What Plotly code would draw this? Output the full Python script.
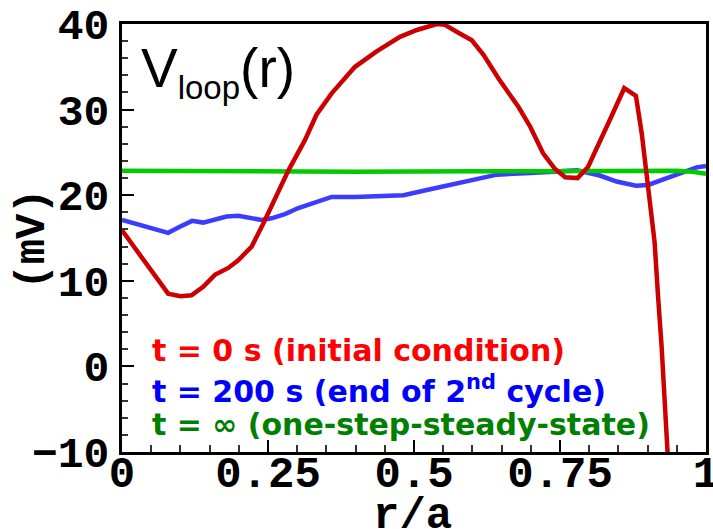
import plotly.graph_objects as go

# Loop voltage profiles V_loop(r) versus normalised radius r/a
r_init = [0.000, 0.034, 0.057, 0.079, 0.100, 0.119, 0.139, 0.159, 0.182, 0.199,
          0.222, 0.242, 0.285, 0.313, 0.333, 0.359, 0.399, 0.436, 0.476, 0.505,
          0.539, 0.553, 0.573, 0.599, 0.619, 0.645, 0.679, 0.699, 0.721, 0.741,
          0.759, 0.780, 0.798, 0.818, 0.838, 0.860, 0.880, 0.890, 0.898, 0.904,
          0.912, 0.918, 0.924, 0.934, 0.940]
v_init = [15.9, 12.8, 10.5, 8.5, 8.2, 8.3, 9.3, 10.7, 11.5, 12.4,
          14.0, 16.7, 22.9, 26.4, 29.4, 31.9, 35.0, 36.8, 38.5, 39.3,
          40.0, 39.9, 39.1, 38.1, 36.4, 33.6, 30.3, 28.0, 24.9, 23.1,
          22.1, 22.0, 23.3, 26.1, 29.2, 32.5, 31.6, 27.2, 22.9, 19.5,
          14.5, 8.1, 2.3, -9.8, -17.0]

r_200 = [0.000, 0.039, 0.059, 0.079, 0.099, 0.120, 0.139, 0.159, 0.179, 0.199,
         0.219, 0.239, 0.256, 0.279, 0.302, 0.330, 0.359, 0.399, 0.430, 0.482,
         0.522, 0.562, 0.601, 0.642, 0.699, 0.740, 0.779, 0.818, 0.847, 0.880,
         0.901, 0.933, 0.961, 0.984, 1.000]
v_200 = [17.1, 16.3, 16.0, 15.6, 16.3, 17.0, 16.8, 17.1, 17.5, 17.6,
         17.4, 17.1, 17.3, 17.8, 18.5, 19.2, 19.8, 19.8, 19.9, 20.0,
         20.6, 21.2, 21.9, 22.4, 22.6, 22.7, 22.9, 22.3, 21.6, 21.1,
         21.2, 22.0, 22.75, 23.25, 23.4]

r_inf = [0.0, 0.2, 0.4, 0.6, 0.8, 0.9, 0.95, 0.98, 1.0]
v_inf = [22.85, 22.75, 22.75, 22.8, 22.8, 22.85, 22.85, 22.7, 22.5]

x_tickvals = [0, 0.25, 0.5, 0.75, 1]
x_ticktext = ["0", "0.25", "0.5", "0.75", "1"]
y_tickvals = [-10, 0, 10, 20, 30, 40]

label_init = "t = 0 s (initial condition)"
label_200 = "t = 200 s (end of 2<sup>nd</sup> cycle)"
label_inf = "t = \u221e (one-step-steady-state)"

fig = go.Figure()
fig.add_trace(go.Scatter(x=r_200, y=v_200, mode="lines",
                         line=dict(color="rgb(60,60,255)", width=4.5)))
fig.add_trace(go.Scatter(x=r_inf, y=v_inf, mode="lines",
                         line=dict(color="rgb(0,204,0)", width=4.5)))
fig.add_trace(go.Scatter(x=r_init, y=v_init, mode="lines",
                         line=dict(color="rgb(204,0,0)", width=4.5)))


def mono(size):
    return dict(family="Liberation Mono", size=size, color="black",
                weight="bold")


axis_common = dict(
    showgrid=False, zeroline=False, showline=True, linecolor="black",
    linewidth=3, mirror=True, ticks="inside", ticklen=12, tickwidth=2,
    tickcolor="black", automargin=False, ticklabeloverflow="allow",
)

fig.update_xaxes(range=[0, 1], tickvals=x_tickvals, ticktext=x_ticktext,
                 tickfont=mono(44),
                 minor=dict(ticks="inside", ticklen=7, tickwidth=1.5,
                            tickcolor="#333", dtick=0.05, showgrid=False),
                 ticklabelstandoff=-21, **axis_common)
fig.update_yaxes(range=[-10, 40], tickvals=y_tickvals, tickfont=mono(43),
                 minor=dict(ticks="inside", ticklen=6, tickwidth=1.5,
                            tickcolor="#333", dtick=2, showgrid=False),
                 ticklabelstandoff=1, **axis_common)

ann = []
# plot title inside the frame
ann.append(dict(text='V<sub><span style="font-size:33px">loop</span></sub>(r)',
                xref="paper", yref="paper",
                x=0.029, y=0.888, xanchor="left", yanchor="middle",
                showarrow=False,
                font=dict(family="Liberation Sans", size=55, color="black")))
# series labels
leg_font = dict(family="DejaVu Sans", size=30, weight="bold")
for txt, col, yy in [(label_init, "#ff0000", 0.236),
                     (label_200, "#0000ff", 0.147),
                     (label_inf, "#008000", 0.064)]:
    ann.append(dict(text=txt, xref="paper", yref="paper", x=0.048, y=yy,
                    xanchor="left", yanchor="middle", showarrow=False,
                    font=dict(color=col, **leg_font)))
# axis titles
ann.append(dict(text="(mV)", xref="paper", yref="paper", x=-0.152, y=0.497,
                xanchor="center", yanchor="middle", textangle=-90,
                showarrow=False, font=mono(42)))
ann.append(dict(text="r/a", xref="paper", yref="paper", x=0.498, y=-0.150,
                xanchor="center", yanchor="middle", showarrow=False,
                font=mono(44)))

fig.update_layout(
    width=713, height=529,
    margin=dict(l=122, r=7, t=24, b=77, pad=0),
    paper_bgcolor="white", plot_bgcolor="white",
    showlegend=False, annotations=ann,
)

fig.write_html("out.html")
